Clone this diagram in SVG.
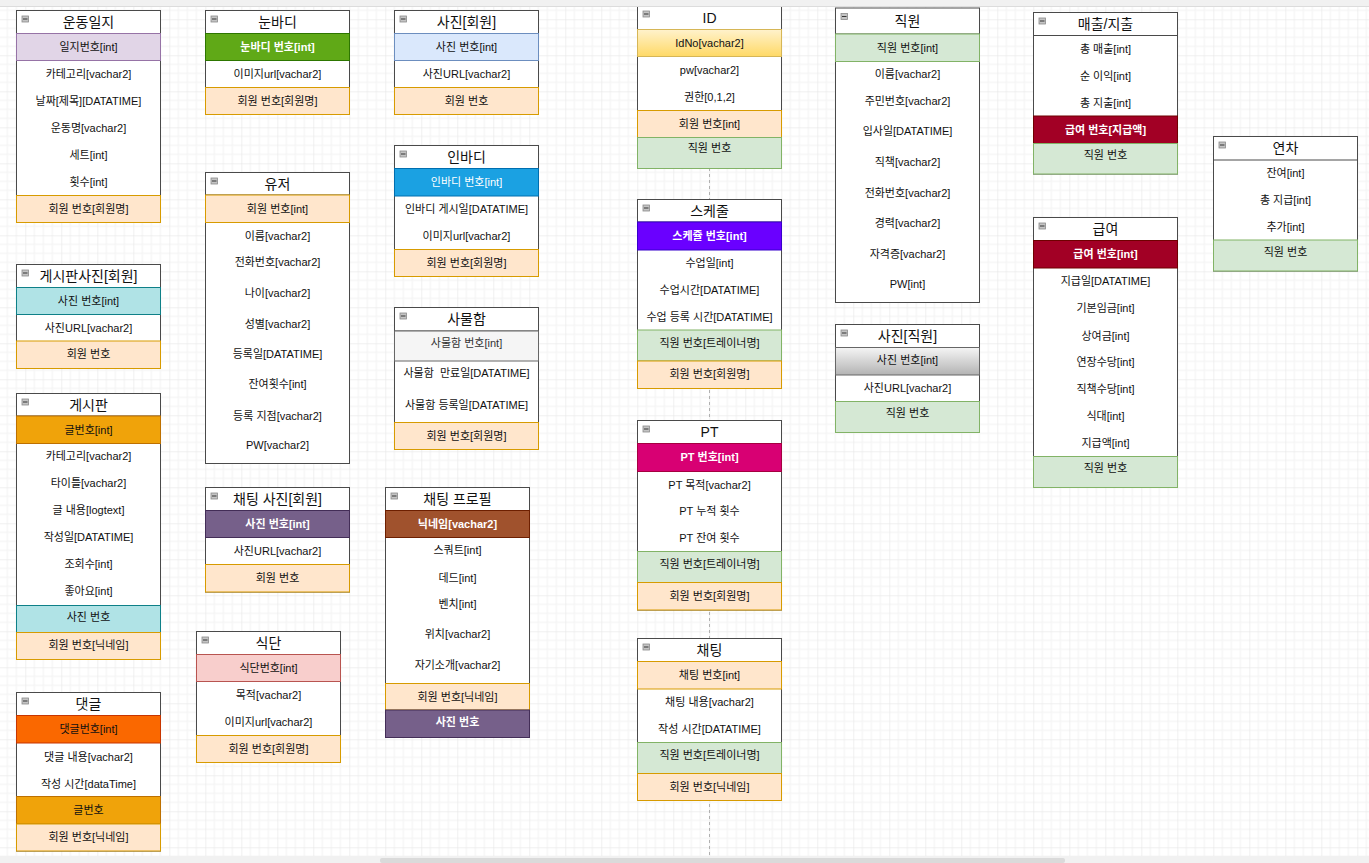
<svg xmlns="http://www.w3.org/2000/svg" width="1369" height="863" viewBox="0 0 1369 863">
<defs>
<pattern id="grid" width="36" height="36" patternUnits="userSpaceOnUse" x="25.3" y="19.3">
<path d="M9 0V36M18 0V36M27 0V36M0 9H36M0 18H36M0 27H36" stroke="#f2f2f2" stroke-width="1" fill="none"/>
<path d="M0 0V36M0 0H36" stroke="#e2e2e2" stroke-width="1" fill="none"/>
</pattern>
<linearGradient id="gy" x1="0" y1="0" x2="0" y2="1"><stop offset="0" stop-color="#fff2cc"/><stop offset="1" stop-color="#ffd966"/></linearGradient>
<linearGradient id="gs" x1="0" y1="0" x2="0" y2="1"><stop offset="0" stop-color="#f5f5f5"/><stop offset="1" stop-color="#b3b3b3"/></linearGradient>
</defs>
<style>
.tb{fill:#fff;stroke:#4a4a4a;stroke-width:1}
.hl{stroke:#4a4a4a;stroke-width:1}
.ic{fill:#c4c4c4;stroke:#8a8a8a;stroke-width:.8}
.icl{stroke:#333;stroke-width:1}
text{font-family:"Liberation Sans","Noto Sans CJK KR",sans-serif;text-anchor:middle;dominant-baseline:central;fill:#111;white-space:pre}
.h{font-size:14px}
.r{font-size:11px}
text.w{fill:#fff}
text.b{font-weight:bold}
text.g3{fill:#333}
.fk{fill:#ffe6cc;stroke:#d79b00}
.gn{fill:#d5e8d4;stroke:#82b366}
.pu{fill:#e1d5e7;stroke:#9673a6}
.lb{fill:#dae8fc;stroke:#6c8ebf}
.te{fill:#b0e3e6;stroke:#0e8088}
.or{fill:#f0a30a;stroke:#bd7000}
.dor{fill:#fa6800;stroke:#c73500}
.vg{fill:#60a917;stroke:#2d7600}
.bl{fill:#1ba1e2;stroke:#006eaf}
.vi{fill:#6a00ff;stroke:#3700cc}
.mg{fill:#d80073;stroke:#a50040}
.mu{fill:#76608a;stroke:#432d57}
.br{fill:#a0522d;stroke:#6d1f00}
.rd{fill:#a20025;stroke:#6f0000}
.pk{fill:#f8cecc;stroke:#b85450}
.gy{fill:#f5f5f5;stroke:#666}
.yl{fill:url(#gy);stroke:#d6b656}
.sv{fill:url(#gs);stroke:#666}
</style>
<rect x="0" y="0" width="1369" height="863" fill="#fff"/>
<rect x="0" y="0" width="1369" height="863" fill="url(#grid)"/>
<g id="guides">
<line x1="709.5" y1="6" x2="709.5" y2="856" stroke="#b0b0b0" stroke-width="1" stroke-dasharray="3 3"/>
</g>
<g id="connectors"></g>

<g id="t-undongilji">
<rect class="tb" x="16.5" y="10.5" width="144" height="212"/>
<line class="hl" x1="16.5" y1="33.5" x2="160.5" y2="33.5"/>
<rect class="ic" x="22" y="16" width="6.5" height="6"/><line class="icl" x1="23" y1="19" x2="27.5" y2="19"/>
<text class="h" x="88.5" y="22">운동일지</text>
<rect class="pu" x="16.5" y="33.5" width="144" height="27"/>
<text class="r" x="88.5" y="47">일지번호[int]</text>
<text class="r" x="88.5" y="74">카테고리[vachar2]</text>
<text class="r" x="88.5" y="101">날짜[제목][DATATIME]</text>
<text class="r" x="88.5" y="128">운동명[vachar2]</text>
<text class="r" x="88.5" y="155">세트[int]</text>
<text class="r" x="88.5" y="182">횟수[int]</text>
<rect class="fk" x="16.5" y="195.5" width="144" height="27"/>
<text class="r" x="88.5" y="209">회원 번호[회원명]</text>
</g>

<g id="t-nunbadi">
<rect class="tb" x="205.5" y="10.5" width="144" height="104"/>
<line class="hl" x1="205.5" y1="33.5" x2="349.5" y2="33.5"/>
<rect class="ic" x="211" y="16" width="6.5" height="6"/><line class="icl" x1="212" y1="19" x2="216.5" y2="19"/>
<text class="h" x="277.5" y="22">눈바디</text>
<rect class="vg" x="205.5" y="33.5" width="144" height="27"/>
<text class="r w b" x="277.5" y="47">눈바디 번호[int]</text>
<text class="r" x="277.5" y="74">이미지url[vachar2]</text>
<rect class="fk" x="205.5" y="87.5" width="144" height="27"/>
<text class="r" x="277.5" y="101">회원 번호[회원명]</text>
</g>

<g id="t-photo-member">
<rect class="tb" x="394.5" y="10.5" width="144" height="104"/>
<line class="hl" x1="394.5" y1="33.5" x2="538.5" y2="33.5"/>
<rect class="ic" x="400" y="16" width="6.5" height="6"/><line class="icl" x1="401" y1="19" x2="405.5" y2="19"/>
<text class="h" x="466.5" y="22">사진[회원]</text>
<rect class="lb" x="394.5" y="33.5" width="144" height="27"/>
<text class="r" x="466.5" y="47">사진 번호[int]</text>
<text class="r" x="466.5" y="74">사진URL[vachar2]</text>
<rect class="fk" x="394.5" y="87.5" width="144" height="27"/>
<text class="r" x="466.5" y="101">회원 번호</text>
</g>

<g id="t-id">
<rect class="tb" x="637.5" y="6" width="144" height="162.5"/>
<line class="hl" x1="637.5" y1="29.5" x2="781.5" y2="29.5"/>
<rect class="ic" x="643" y="11" width="6.5" height="6"/><line class="icl" x1="644" y1="14" x2="648.5" y2="14"/>
<text class="h" x="709.5" y="18">ID</text>
<rect class="yl" x="637.5" y="29.5" width="144" height="27"/>
<text class="r" x="709.5" y="42.5">IdNo[vachar2]</text>
<text class="r" x="709.5" y="69.5">pw[vachar2]</text>
<text class="r" x="709.5" y="96.5">권한[0,1,2]</text>
<rect class="fk" x="637.5" y="110.5" width="144" height="27"/>
<text class="r" x="709.5" y="123.5">회원 번호[int]</text>
<rect class="gn" x="637.5" y="137.5" width="144" height="31"/>
<text class="r" x="709.5" y="148">직원 번호</text>
</g>

<g id="t-schedule">
<rect class="tb" x="637.5" y="199.5" width="144" height="189"/>
<line class="hl" x1="637.5" y1="222" x2="781.5" y2="222"/>
<rect class="ic" x="643" y="205" width="6.5" height="6"/><line class="icl" x1="644" y1="208" x2="648.5" y2="208"/>
<text class="h" x="709.5" y="210.5">스케줄</text>
<rect class="vi" x="637.5" y="222" width="144" height="28"/>
<text class="r w b" x="709.5" y="236">스케쥴 번호[int]</text>
<text class="r" x="709.5" y="263.3">수업일[int]</text>
<text class="r" x="709.5" y="290">수업시간[DATATIME]</text>
<text class="r" x="709.5" y="316.7">수업 등록 시간[DATATIME]</text>
<rect class="gn" x="637.5" y="330" width="144" height="31"/>
<text class="r" x="709.5" y="343">직원 번호[트레이너명]</text>
<rect class="fk" x="637.5" y="361" width="144" height="27.5"/>
<text class="r" x="709.5" y="374">회원 번호[회원명]</text>
</g>

<g id="t-pt">
<rect class="tb" x="637.5" y="420.5" width="144" height="189.5"/>
<line class="hl" x1="637.5" y1="443.5" x2="781.5" y2="443.5"/>
<rect class="ic" x="643" y="426" width="6.5" height="6"/><line class="icl" x1="644" y1="429" x2="648.5" y2="429"/>
<text class="h" x="709.5" y="432">PT</text>
<rect class="mg" x="637.5" y="443.5" width="144" height="28"/>
<text class="r w b" x="709.5" y="457">PT 번호[int]</text>
<text class="r" x="709.5" y="484.5">PT 목적[vachar2]</text>
<text class="r" x="709.5" y="511">PT 누적 횟수</text>
<text class="r" x="709.5" y="538">PT 잔여 횟수</text>
<rect class="gn" x="637.5" y="551.5" width="144" height="31"/>
<text class="r" x="709.5" y="564">직원 번호[트레이너명]</text>
<rect class="fk" x="637.5" y="582.5" width="144" height="27.5"/>
<text class="r" x="709.5" y="595.5">회원 번호[회원명]</text>
</g>

<g id="t-chat">
<rect class="tb" x="637.5" y="638.5" width="144" height="162"/>
<line class="hl" x1="637.5" y1="661.5" x2="781.5" y2="661.5"/>
<rect class="ic" x="643" y="644" width="6.5" height="6"/><line class="icl" x1="644" y1="647" x2="648.5" y2="647"/>
<text class="h" x="709.5" y="650">채팅</text>
<rect class="fk" x="637.5" y="661.5" width="144" height="27.5"/>
<text class="r" x="709.5" y="675">채팅 번호[int]</text>
<text class="r" x="709.5" y="702.3">채팅 내용[vachar2]</text>
<text class="r" x="709.5" y="729">작성 시간[DATATIME]</text>
<rect class="gn" x="637.5" y="742.5" width="144" height="31"/>
<text class="r" x="709.5" y="754.5">직원 번호[트레이너명]</text>
<rect class="fk" x="637.5" y="773.5" width="144" height="27"/>
<text class="r" x="709.5" y="787">회원 번호[닉네임]</text>
</g>

<g id="t-staff">
<rect class="tb" x="835.5" y="8" width="144" height="294.5"/>
<line class="hl" x1="835.5" y1="34" x2="979.5" y2="34"/>
<rect class="ic" x="841" y="13.5" width="6.5" height="6"/><line class="icl" x1="842" y1="16.5" x2="846.5" y2="16.5"/>
<text class="h" x="907.5" y="21">직원</text>
<rect class="gn" x="835.5" y="34" width="144" height="27.5"/>
<text class="r" x="907.5" y="47.5">직원 번호[int]</text>
<text class="r" x="907.5" y="74">이름[vachar2]</text>
<text class="r" x="907.5" y="101">주민번호[vachar2]</text>
<text class="r" x="907.5" y="131">입사일[DATATIME]</text>
<text class="r" x="907.5" y="162">직책[vachar2]</text>
<text class="r" x="907.5" y="192.5">전화번호[vachar2]</text>
<text class="r" x="907.5" y="222.5">경력[vachar2]</text>
<text class="r" x="907.5" y="254">자격증[vachar2]</text>
<text class="r" x="907.5" y="284">PW[int]</text>
</g>

<g id="t-photo-staff">
<rect class="tb" x="835.5" y="324.5" width="144" height="108"/>
<line class="hl" x1="835.5" y1="347.5" x2="979.5" y2="347.5"/>
<rect class="ic" x="841" y="330" width="6.5" height="6"/><line class="icl" x1="842" y1="333" x2="846.5" y2="333"/>
<text class="h" x="907.5" y="336">사진[직원]</text>
<rect class="sv" x="835.5" y="347.5" width="144" height="27.5"/>
<text class="r" x="907.5" y="360">사진 번호[int]</text>
<text class="r" x="907.5" y="387.5">사진URL[vachar2]</text>
<rect class="gn" x="835.5" y="401.5" width="144" height="31"/>
<text class="r" x="907.5" y="413">직원 번호</text>
</g>

<g id="t-sales">
<rect class="tb" x="1033.5" y="12.5" width="144" height="161.5"/>
<line class="hl" x1="1033.5" y1="35.5" x2="1177.5" y2="35.5"/>
<rect class="ic" x="1039" y="18" width="6.5" height="6"/><line class="icl" x1="1040" y1="21" x2="1044.5" y2="21"/>
<text class="h" x="1105.5" y="24">매출/지출</text>
<text class="r" x="1105.5" y="49">총 매출[int]</text>
<text class="r" x="1105.5" y="76">순 이익[int]</text>
<text class="r" x="1105.5" y="103">총 지출[int]</text>
<rect class="rd" x="1033.5" y="116" width="144" height="27.5"/>
<text class="r w b" x="1105.5" y="129.5">급여 번호[지급액]</text>
<rect class="gn" x="1033.5" y="143.5" width="144" height="30.5"/>
<text class="r" x="1105.5" y="155">직원 번호</text>
</g>

<g id="t-yeoncha">
<rect class="tb" x="1213.5" y="136.5" width="144" height="134.5"/>
<line class="hl" x1="1213.5" y1="160" x2="1357.5" y2="160"/>
<rect class="ic" x="1219" y="142" width="6.5" height="6"/><line class="icl" x1="1220" y1="145" x2="1224.5" y2="145"/>
<text class="h" x="1285.5" y="148">연차</text>
<text class="r" x="1285.5" y="173">잔여[int]</text>
<text class="r" x="1285.5" y="200">총 지급[int]</text>
<text class="r" x="1285.5" y="227">추가[int]</text>
<rect class="gn" x="1213.5" y="240" width="144" height="31"/>
<text class="r" x="1285.5" y="251.5">직원 번호</text>
</g>

<g id="t-salary">
<rect class="tb" x="1033.5" y="217.5" width="144" height="270"/>
<line class="hl" x1="1033.5" y1="240.5" x2="1177.5" y2="240.5"/>
<rect class="ic" x="1039" y="223" width="6.5" height="6"/><line class="icl" x1="1040" y1="226" x2="1044.5" y2="226"/>
<text class="h" x="1105.5" y="229">급여</text>
<rect class="rd" x="1033.5" y="240.5" width="144" height="27.5"/>
<text class="r w b" x="1105.5" y="254">급여 번호[int]</text>
<text class="r" x="1105.5" y="281">지급일[DATATIME]</text>
<text class="r" x="1105.5" y="308">기본임금[int]</text>
<text class="r" x="1105.5" y="335.5">상여금[int]</text>
<text class="r" x="1105.5" y="362">연장수당[int]</text>
<text class="r" x="1105.5" y="389">직책수당[int]</text>
<text class="r" x="1105.5" y="416">식대[int]</text>
<text class="r" x="1105.5" y="442.5">지급액[int]</text>
<rect class="gn" x="1033.5" y="456.5" width="144" height="31"/>
<text class="r" x="1105.5" y="467.5">직원 번호</text>
</g>

<g id="t-board-photo">
<rect class="tb" x="16.5" y="264.5" width="144" height="104"/>
<line class="hl" x1="16.5" y1="287.5" x2="160.5" y2="287.5"/>
<rect class="ic" x="22" y="270" width="6.5" height="6"/><line class="icl" x1="23" y1="273" x2="27.5" y2="273"/>
<text class="h" x="88.5" y="276">게시판사진[회원]</text>
<rect class="te" x="16.5" y="287.5" width="144" height="27"/>
<text class="r" x="88.5" y="300.5">사진 번호[int]</text>
<text class="r" x="88.5" y="327.5">사진URL[vachar2]</text>
<rect class="fk" x="16.5" y="341" width="144" height="27.5"/>
<text class="r" x="88.5" y="354">회원 번호</text>
</g>

<g id="t-board">
<rect class="tb" x="16.5" y="393.5" width="144" height="266"/>
<line class="hl" x1="16.5" y1="416" x2="160.5" y2="416"/>
<rect class="ic" x="22" y="399" width="6.5" height="6"/><line class="icl" x1="23" y1="402" x2="27.5" y2="402"/>
<text class="h" x="88.5" y="405">게시판</text>
<rect class="or" x="16.5" y="416" width="144" height="27.5"/>
<text class="r" x="88.5" y="429.5">글번호[int]</text>
<text class="r" x="88.5" y="456">카테고리[vachar2]</text>
<text class="r" x="88.5" y="483">타이틀[vachar2]</text>
<text class="r" x="88.5" y="510">글 내용[logtext]</text>
<text class="r" x="88.5" y="537">작성일[DATATIME]</text>
<text class="r" x="88.5" y="563.5">조회수[int]</text>
<text class="r" x="88.5" y="590.5">좋아요[int]</text>
<rect class="te" x="16.5" y="605.5" width="144" height="27"/>
<text class="r" x="88.5" y="617">사진 번호</text>
<rect class="fk" x="16.5" y="632.5" width="144" height="27"/>
<text class="r" x="88.5" y="645">회원 번호[닉네임]</text>
</g>

<g id="t-comment">
<rect class="tb" x="16.5" y="692.5" width="144" height="158.5"/>
<line class="hl" x1="16.5" y1="715.5" x2="160.5" y2="715.5"/>
<rect class="ic" x="22" y="698" width="6.5" height="6"/><line class="icl" x1="23" y1="701" x2="27.5" y2="701"/>
<text class="h" x="88.5" y="704">댓글</text>
<rect class="dor" x="16.5" y="715.5" width="144" height="27.5"/>
<text class="r" x="88.5" y="729">댓글번호[int]</text>
<text class="r" x="88.5" y="756.5">댓글 내용[vachar2]</text>
<text class="r" x="88.5" y="783.5">작성 시간[dataTime]</text>
<rect class="or" x="16.5" y="796.5" width="144" height="27.5"/>
<text class="r" x="88.5" y="809.5">글번호</text>
<rect class="fk" x="16.5" y="824" width="144" height="27"/>
<text class="r" x="88.5" y="836.5">회원 번호[닉네임]</text>
</g>

<g id="t-user">
<rect class="tb" x="205.5" y="172.5" width="144" height="291"/>
<line class="hl" x1="205.5" y1="195" x2="349.5" y2="195"/>
<rect class="ic" x="211" y="178" width="6.5" height="6"/><line class="icl" x1="212" y1="181" x2="216.5" y2="181"/>
<text class="h" x="277.5" y="184">유저</text>
<rect class="fk" x="205.5" y="195" width="144" height="27.5"/>
<text class="r" x="277.5" y="208.5">회원 번호[int]</text>
<text class="r" x="277.5" y="236">이름[vachar2]</text>
<text class="r" x="277.5" y="262">전화번호[vachar2]</text>
<text class="r" x="277.5" y="292.5">나이[vachar2]</text>
<text class="r" x="277.5" y="323.5">성별[vachar2]</text>
<text class="r" x="277.5" y="354">등록일[DATATIME]</text>
<text class="r" x="277.5" y="384">잔여횟수[int]</text>
<text class="r" x="277.5" y="415.5">등록 지점[vachar2]</text>
<text class="r" x="277.5" y="445">PW[vachar2]</text>
</g>

<g id="t-inbody">
<rect class="tb" x="394.5" y="145.5" width="144" height="131"/>
<line class="hl" x1="394.5" y1="168.5" x2="538.5" y2="168.5"/>
<rect class="ic" x="400" y="151" width="6.5" height="6"/><line class="icl" x1="401" y1="154" x2="405.5" y2="154"/>
<text class="h" x="466.5" y="157">인바디</text>
<rect class="bl" x="394.5" y="168.5" width="144" height="27.5"/>
<text class="r w" x="466.5" y="182">인바디 번호[int]</text>
<text class="r" x="466.5" y="209">인바디 게시일[DATATIME]</text>
<text class="r" x="466.5" y="236">이미지url[vachar2]</text>
<rect class="fk" x="394.5" y="249.5" width="144" height="27"/>
<text class="r" x="466.5" y="262.5">회원 번호[회원명]</text>
</g>

<g id="t-locker">
<rect class="tb" x="394.5" y="307.5" width="144" height="142"/>
<line class="hl" x1="394.5" y1="331" x2="538.5" y2="331"/>
<rect class="ic" x="400" y="313" width="6.5" height="6"/><line class="icl" x1="401" y1="316" x2="405.5" y2="316"/>
<text class="h" x="466.5" y="319">사물함</text>
<rect class="gy" x="394.5" y="331" width="144" height="30"/>
<text class="r g3" x="466.5" y="343">사물함 번호[int]</text>
<text class="r" x="466.5" y="372.5">사물함  만료일[DATATIME]</text>
<text class="r" x="466.5" y="404.5">사물함 등록일[DATATIME]</text>
<rect class="fk" x="394.5" y="422.5" width="144" height="27"/>
<text class="r" x="466.5" y="435.5">회원 번호[회원명]</text>
</g>

<g id="t-chat-photo">
<rect class="tb" x="205.5" y="487.5" width="144" height="104.5"/>
<line class="hl" x1="205.5" y1="510.5" x2="349.5" y2="510.5"/>
<rect class="ic" x="211" y="493" width="6.5" height="6"/><line class="icl" x1="212" y1="496" x2="216.5" y2="496"/>
<text class="h" x="277.5" y="499">채팅 사진[회원]</text>
<rect class="mu" x="205.5" y="510.5" width="144" height="27"/>
<text class="r w b" x="277.5" y="523.5">사진 번호[int]</text>
<text class="r" x="277.5" y="550.5">사진URL[vachar2]</text>
<rect class="fk" x="205.5" y="564.5" width="144" height="27.5"/>
<text class="r" x="277.5" y="577.5">회원 번호</text>
</g>

<g id="t-chat-profile">
<rect class="tb" x="385.5" y="487.5" width="144" height="250"/>
<line class="hl" x1="385.5" y1="510.5" x2="529.5" y2="510.5"/>
<rect class="ic" x="391" y="493" width="6.5" height="6"/><line class="icl" x1="392" y1="496" x2="396.5" y2="496"/>
<text class="h" x="457.5" y="499">채팅 프로필</text>
<rect class="br" x="385.5" y="510.5" width="144" height="27"/>
<text class="r w b" x="457.5" y="523.5">닉네임[vachar2]</text>
<text class="r" x="457.5" y="550">스쿼트[int]</text>
<text class="r" x="457.5" y="577.5">데드[int]</text>
<text class="r" x="457.5" y="604">벤치[int]</text>
<text class="r" x="457.5" y="634">위치[vachar2]</text>
<text class="r" x="457.5" y="665">자기소개[vachar2]</text>
<rect class="fk" x="385.5" y="683.5" width="144" height="26.5"/>
<text class="r" x="457.5" y="696.5">회원 번호[닉네임]</text>
<rect class="mu" x="385.5" y="710" width="144" height="27.5"/>
<text class="r w b" x="457.5" y="722">사진 번호</text>
</g>

<g id="t-diet">
<rect class="tb" x="196.5" y="631.5" width="144" height="131"/>
<line class="hl" x1="196.5" y1="654.5" x2="340.5" y2="654.5"/>
<rect class="ic" x="202" y="637" width="6.5" height="6"/><line class="icl" x1="203" y1="640" x2="207.5" y2="640"/>
<text class="h" x="268.5" y="643">식단</text>
<rect class="pk" x="196.5" y="654.5" width="144" height="27"/>
<text class="r" x="268.5" y="668">식단번호[int]</text>
<text class="r" x="268.5" y="695">목적[vachar2]</text>
<text class="r" x="268.5" y="722">이미지url[vachar2]</text>
<rect class="fk" x="196.5" y="735.5" width="144" height="27"/>
<text class="r" x="268.5" y="748.5">회원 번호[회원명]</text>
</g>

<g id="chrome">
<rect x="0" y="0" width="1369" height="6" fill="#f1f1f1"/>
<line x1="0" y1="6.5" x2="1369" y2="6.5" stroke="#dcdcdc"/>
<rect x="0" y="856" width="1369" height="7" fill="#f1f1f1"/>
<rect x="380" y="858" width="685" height="5" rx="2" fill="#dadada"/>
</g>
</svg>
